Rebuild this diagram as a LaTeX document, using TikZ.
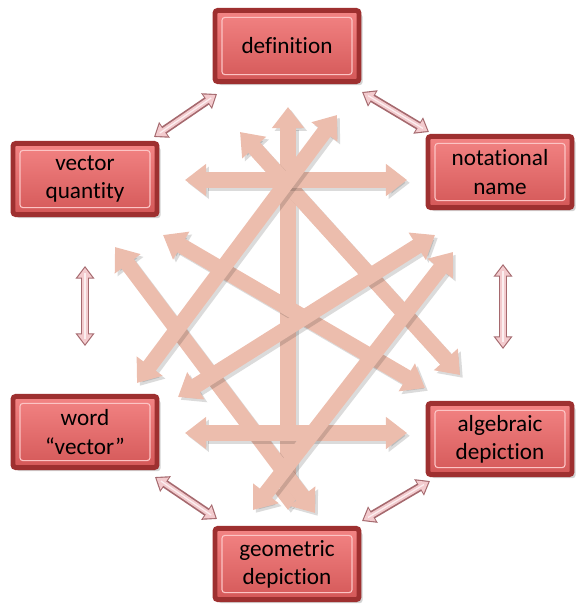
\documentclass[tikz,border=0pt]{standalone}
\usepackage{fontspec}
\setmainfont{Carlito}[Ligatures={TeX,NoCommon}]
\usetikzlibrary{arrows.meta, positioning, calc, shadows}
\definecolor{facetop}{RGB}{243,132,132}
\definecolor{facebot}{RGB}{212,88,88}
\definecolor{boxrim}{RGB}{158,48,48}
\definecolor{bevel}{RGB}{252,196,196}
\definecolor{web}{RGB}{236,189,173}
\definecolor{linkpink}{RGB}{243,203,206}
\definecolor{linkrim}{RGB}{165,105,110}
\tikzset{
  concept/.style = {
    rectangle, rounded corners=2pt, draw=boxrim, line width=3.5pt,
    top color=facetop, bottom color=facebot,
    minimum width=3.6cm, minimum height=1.78cm, align=center,
    font=\fontsize{16.5}{20}\selectfont,
    drop shadow={shadow xshift=2.5pt, shadow yshift=-2.5pt, opacity=.35},
    path picture={\draw[bevel, line width=.8pt]
      ([shift={(5pt,-5pt)}]path picture bounding box.north west) rectangle
      ([shift={(-5pt,5pt)}]path picture bounding box.south east);}
  },
  crosslink/.style = {web, line width=11pt,
    {Triangle[length=15pt,width=22pt]}-{Triangle[length=15pt,width=22pt]}},
  crossshade/.style = {black, opacity=.14, line width=11pt,
    transform canvas={shift={(2pt,-2pt)}},
    {Triangle[length=15pt,width=22pt]}-{Triangle[length=15pt,width=22pt]}},
  pairrim/.style = {linkrim, line width=6pt,
    {Triangle[length=9pt,width=13pt]}-{Triangle[length=9pt,width=13pt]}},
  pairfill/.style = {linkpink, line width=3.6pt, shorten >=1.3pt, shorten <=1.3pt,
    {Triangle[length=7pt,width=10pt]}-{Triangle[length=7pt,width=10pt]}},
  pairshine/.style = {white, opacity=.7, line width=.9pt, shorten >=5pt, shorten <=5pt}
}

\begin{document}
\begin{tikzpicture}[x=0.025cm, y=-0.025cm]
  \useasboundingbox (0,0) rectangle (576,609);

  % Concepts
  \node[concept] (def)      at (287,46)  {definition};
  \node[concept] (quantity) at (85,179)  {vector\\quantity};
  \node[concept] (notation) at (500,172) {notational\\name};
  \node[concept] (word)     at (85,432)  {word\\“vector”};
  \node[concept] (algebra)  at (500,439) {algebraic\\depiction};
  \node[concept] (geometry) at (287,564) {geometric\\depiction};

  % Ends of the crossing links
  \coordinate (qn1) at (185,180);  \coordinate (qn2) at (407,180);
  \coordinate (wa1) at (185,433);  \coordinate (wa2) at (407,433);
  \coordinate (dg1) at (288,107);  \coordinate (dg2) at (288,510);
  \coordinate (da1) at (240,132);  \coordinate (da2) at (460,375);
  \coordinate (dw1) at (337,115);  \coordinate (dw2) at (137,383);
  \coordinate (qa1) at (163,235);  \coordinate (qa2) at (425,388);
  \coordinate (nw1) at (435,235);  \coordinate (nw2) at (178,397);
  \coordinate (qg1) at (115,247);  \coordinate (qg2) at (315,513);
  \coordinate (ng1) at (453,252);  \coordinate (ng2) at (253,510);

  % Crossing links
  \foreach \a/\b in {dg1/dg2, da1/da2, qg1/qg2, qa1/qa2, qn1/qn2,
                     wa1/wa2, dw1/dw2, nw1/nw2, ng1/ng2} {
    \draw[crossshade] (\a) -- (\b);
    \draw[crosslink] (\a) -- (\b);
  }

  % Ends of the links round the ring
  \coordinate (dq1) at (217,94);  \coordinate (dq2) at (154,137);
  \coordinate (dn1) at (362,92);  \coordinate (dn2) at (429,132);
  \coordinate (qw1) at (85,266);  \coordinate (qw2) at (85,346);
  \coordinate (na1) at (503,264); \coordinate (na2) at (503,349);
  \coordinate (wg1) at (155,477); \coordinate (wg2) at (217,519);
  \coordinate (ag1) at (430,481); \coordinate (ag2) at (362,521);

  % Ring links
  \foreach \a/\b in {dq1/dq2, dn1/dn2, qw1/qw2, na1/na2, wg1/wg2, ag1/ag2} {
    \draw[pairrim] (\a) -- (\b);
    \draw[pairfill] (\a) -- (\b);
    \draw[pairshine] (\a) -- (\b);
  }
\end{tikzpicture}
\end{document}
